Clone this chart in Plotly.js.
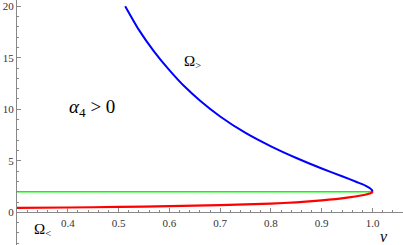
<!DOCTYPE html>
<html>
<head>
<meta charset="utf-8">
<script src="https://cdn.plot.ly/plotly-3.0.1.min.js"></script>
<style>html,body{margin:0;padding:0;background:#fff;}#chart{width:403px;height:245px;}</style>
</head>
<body>
<div id="chart"></div>
<script>
// Omega_> branch (blue)
const nuUpper = [0.513, 0.54, 0.57, 0.60, 0.63, 0.66, 0.70, 0.75, 0.80, 0.85, 0.90, 0.94, 0.97, 0.985, 0.995, 0.999, 1.0];
const omegaUpper = [20.0, 17.7, 15.6, 13.8, 12.2, 10.85, 9.3, 7.7, 6.4, 5.27, 4.25, 3.5, 2.92, 2.62, 2.33, 2.15, 2.0];
// Omega_< branch (red)
const nuLower = [0.3, 0.4, 0.5, 0.6, 0.7, 0.8, 0.85, 0.9, 0.95, 0.98, 0.995, 0.999, 1.0];
const omegaLower = [0.43, 0.47, 0.52, 0.6, 0.7, 0.85, 0.97, 1.15, 1.42, 1.66, 1.83, 1.92, 2.0];
// horizontal level (green)
const nuLevel = [0.3, 1.0];
const omegaLevel = [2.0, 2.0];
// ticks
const xTickVals = [0.4, 0.5, 0.6, 0.7, 0.8, 0.9, 1.0];
const xTickText = ["0.4", "0.5", "0.6", "0.7", "0.8", "0.9", "1.0"];
const yTickVals = [0, 5, 10, 15, 20];
const yTickText = ["0", "5", "10", "15", "20"];

const traces = [
  {x: nuLevel, y: omegaLevel, mode: 'lines', line: {color: '#00ff00', width: 1.6}, hoverinfo: 'skip'},
  {x: nuLower, y: omegaLower, mode: 'lines', line: {color: '#ff0000', width: 2.2, shape: 'spline', smoothing: 0.5}, hoverinfo: 'skip'},
  {x: nuUpper, y: omegaUpper, mode: 'lines', line: {color: '#0000ff', width: 2, shape: 'spline', smoothing: 0.5}, hoverinfo: 'skip'}
];

const serif = 'Liberation Serif';
const tickFont = {family: serif, size: 11, color: '#333'};
const axCol = '#888';

const layout = {
  width: 403, height: 245,
  margin: {l: 17, r: 0, t: 0, b: 0, pad: 0},
  paper_bgcolor: '#fff', plot_bgcolor: '#fff',
  showlegend: false,
  xaxis: {
    range: [0.3, 1.06], anchor: 'free', position: 0.1334,
    showgrid: false, zeroline: false, showline: true, linecolor: axCol, linewidth: 1,
    tickmode: 'array', tickvals: xTickVals, ticktext: xTickText,
    ticks: 'inside', ticklen: 4, tickcolor: axCol, tickwidth: 1,
    tickfont: tickFont,
    minor: {tickmode: 'linear', tick0: 0.3, dtick: 0.02, ticks: 'inside', ticklen: 2, tickcolor: axCol, showgrid: false}
  },
  yaxis: {
    range: [-3.17, 20.6],
    showgrid: false, zeroline: false, showline: true, linecolor: axCol, linewidth: 1,
    tickmode: 'array', tickvals: yTickVals, ticktext: yTickText,
    ticks: 'inside', ticklen: 4, tickcolor: axCol, tickwidth: 1,
    tickfont: tickFont,
    minor: {tickmode: 'linear', tick0: 0, dtick: 1, ticks: 'inside', ticklen: 2, tickcolor: axCol, showgrid: false}
  },
  annotations: [
    {x: 0.447, y: 10.1, xref: 'x', yref: 'y', showarrow: false,
     text: '<i>α</i><sub>4</sub> &gt; 0', font: {family: serif, size: 19, color: '#000'}},
    {x: 0.645, y: 14.6, xref: 'x', yref: 'y', showarrow: false,
     text: 'Ω<sub>&gt;</sub>', font: {family: serif, size: 15, color: '#000'}},
    {x: 0.35, y: -1.7, xref: 'x', yref: 'y', showarrow: false,
     text: 'Ω<sub>&lt;</sub>', font: {family: serif, size: 15, color: '#000'}},
    {x: 1.022, y: -2.3, xref: 'x', yref: 'y', showarrow: false,
     text: '<i>ν</i>', font: {family: serif, size: 16, color: '#000'}}
  ]
};

Plotly.newPlot('chart', traces, layout, {staticPlot: true, displayModeBar: false});
</script>
</body>
</html>
